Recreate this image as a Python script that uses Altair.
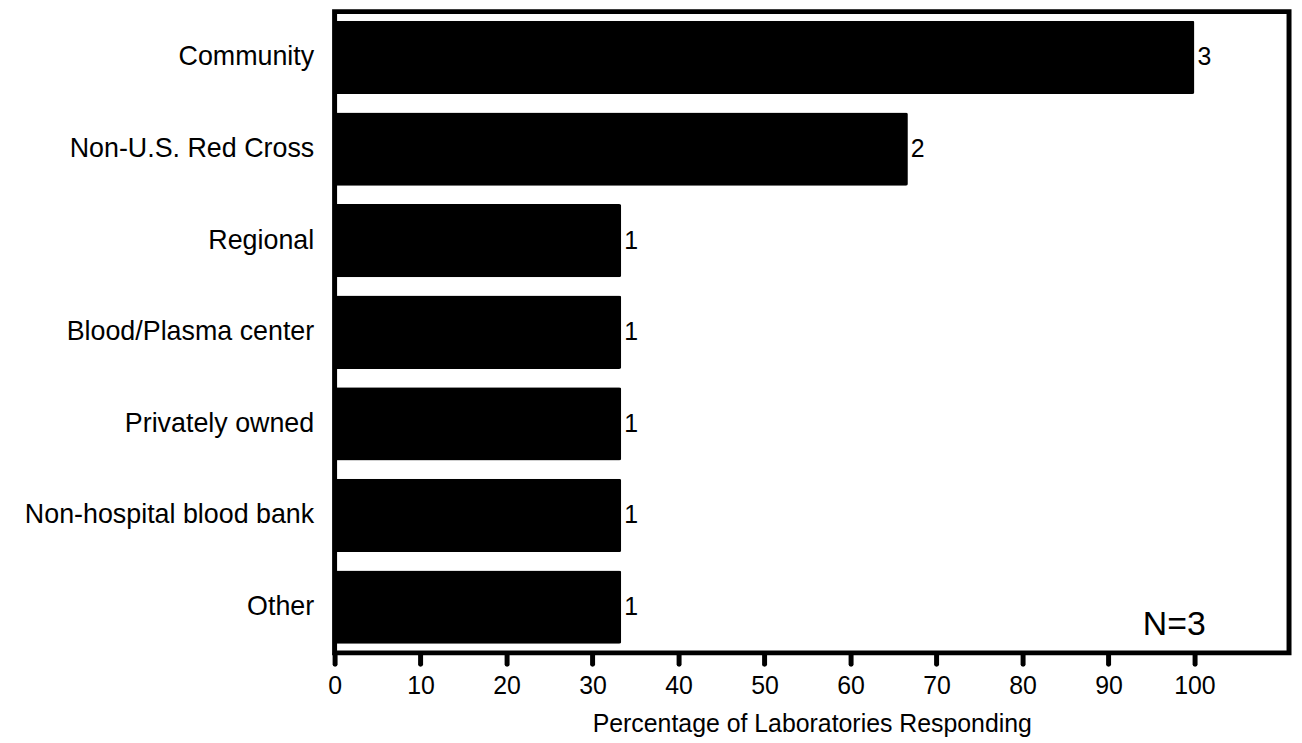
import altair as alt
import pandas as pd

categories = ["Community", "Non-U.S. Red Cross", "Regional", "Blood/Plasma center",
              "Privately owned", "Non-hospital blood bank", "Other"]
percentages = [100.0, 66.67, 33.33, 33.33, 33.33, 33.33, 33.33]
counts = [3, 2, 1, 1, 1, 1, 1]
x_ticks = [0, 10, 20, 30, 40, 50, 60, 70, 80, 90, 100]
n_label = "N=3"

df = pd.DataFrame({"cat": categories, "pct": percentages, "n": [str(c) for c in counts]})

FONT = "Liberation Sans"

x_enc = alt.X("pct:Q", scale=alt.Scale(domain=[0, 111], nice=False, zero=True),
              axis=alt.Axis(values=x_ticks, title="Percentage of Laboratories Responding",
                            grid=False, domain=False, tickSize=11, tickWidth=5, tickCap="round",
                            tickColor="black", labelFontSize=25, labelColor="black",
                            labelFont=FONT, labelPadding=9.5, titleFont=FONT, titleFontSize=25,
                            titleFontWeight="normal", titleColor="black", titlePadding=14,
                            labelFlush=False))
y_enc = alt.Y("cat:N", sort=categories,
              scale=alt.Scale(paddingInner=0.2, paddingOuter=0.1),
              axis=alt.Axis(title=None, ticks=False, domain=False, labelFontSize=27,
                            labelFont=FONT, labelColor="black", labelPadding=21,
                            labelLimit=0))

bars = alt.Chart(df).mark_bar(color="black", cornerRadius=2).encode(x=x_enc, y=y_enc)

texts = alt.Chart(df).mark_text(align="left", baseline="middle", dx=3, fontSize=25,
                                font=FONT, color="black").encode(
    x="pct:Q", y=alt.Y("cat:N", sort=categories), text="n:N")

nlab = alt.Chart(pd.DataFrame({"t": [n_label], "x": [94]})).mark_text(
    align="left", baseline="middle", fontSize=34, font=FONT, color="black").encode(
    x="x:Q", y=alt.value(617), text="t:N")

chart = alt.layer(bars, texts, nlab).properties(
    width=960, height=645,
    autosize=alt.AutoSizeParams(type="none"),
    padding={"left": 328.5, "top": 1.5, "right": 5, "bottom": 90},
).configure(background="white").configure_view(stroke="black", strokeWidth=5, fill="white")

chart.save("out.html", embed_options={"renderer": "svg", "actions": False})
